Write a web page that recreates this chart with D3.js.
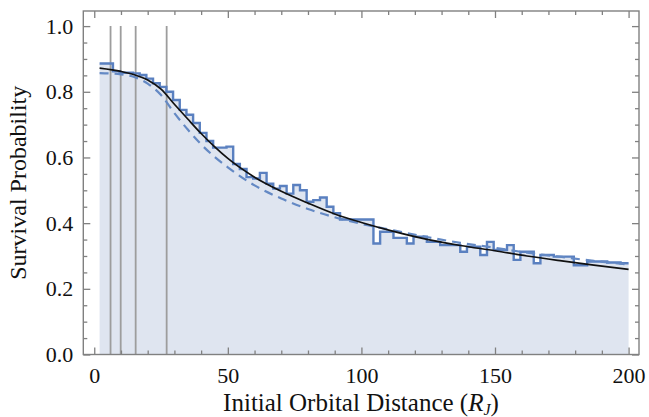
<!DOCTYPE html>
<html>
<head>
<meta charset="utf-8">
<script src="https://cdn.jsdelivr.net/npm/d3@7"></script>
<style>
  body { margin: 0; background: #fff; }
  svg text { font-family: "Liberation Serif", "Times New Roman", serif; fill: #111; }
</style>
</head>
<body>
<div id="chart"></div>
<script>
/* survival probability vs initial orbital distance */

// histogram: bins of width 2.5 starting at 2 (last bin closes at 200)
const binStart = 2, binWidth = 2.5, binEnd = 200;
const survival = [
  0.886, 0.886, 0.862, 0.858, 0.858, 0.856, 0.851, 0.840, 0.826, 0.815,
  0.800, 0.775, 0.745, 0.730, 0.705, 0.675, 0.650, 0.630, 0.630, 0.633,
  0.580, 0.565, 0.540, 0.536, 0.553, 0.520, 0.505, 0.513, 0.490, 0.516,
  0.500, 0.465, 0.470, 0.478, 0.450, 0.430, 0.411, 0.411, 0.411, 0.411,
  0.411, 0.338, 0.374, 0.374, 0.355, 0.355, 0.338, 0.359, 0.359, 0.343,
  0.343, 0.333, 0.333, 0.333, 0.313, 0.328, 0.328, 0.303, 0.343, 0.318,
  0.318, 0.333, 0.288, 0.313, 0.313, 0.278, 0.303, 0.303, 0.298, 0.298,
  0.298, 0.272, 0.272, 0.283, 0.283, 0.283, 0.280, 0.280, 0.278
];

// fitted curves
const fitX = [2, 10, 15, 20, 25, 30, 35, 40, 45, 50, 60, 70, 80, 90, 100, 112, 125, 137, 150, 162, 175, 187, 200];
const fitSolid = [0.872, 0.862, 0.852, 0.836, 0.808, 0.762, 0.717, 0.673, 0.633, 0.597, 0.540, 0.497, 0.461, 0.428, 0.402, 0.375, 0.350, 0.332, 0.316, 0.300, 0.285, 0.272, 0.259];
const fitDashed = [0.857, 0.853, 0.845, 0.825, 0.790, 0.735, 0.685, 0.640, 0.602, 0.570, 0.515, 0.475, 0.443, 0.418, 0.398, 0.378, 0.357, 0.340, 0.325, 0.310, 0.297, 0.285, 0.274];

// vertical marker lines (moon orbits)
const moons = [6.1, 9.9, 15.5, 27.1];

const xTicks = [0, 50, 100, 150, 200];
const yTicks = [0, 0.2, 0.4, 0.6, 0.8, 1.0];

const width = 649, height = 417,
      margin = ({top: 11, right: 10, bottom: 62.5, left: 83.3});

let svg = d3.select("#chart")
    .append("svg")
    .attr("width", width)
    .attr("height", height);

let x = d3.scaleLinear()
    .domain([-4.1, 203.9])
    .range([margin.left, width - margin.right]);

let y = d3.scaleLinear()
    .domain([0, 1.046])
    .range([height - margin.bottom, margin.top]);

// build step points
let steps = survival.map((v, i) => ({
    x0: binStart + i * binWidth,
    x1: Math.min(binStart + (i + 1) * binWidth, binEnd),
    v: v
}));
steps[steps.length - 1].x1 = binEnd;

let stepPts = [];
for (let s of steps) {
    stepPts.push([s.x0, s.v]);
    stepPts.push([s.x1, s.v]);
}

// filled area under histogram
svg.append("path")
    .datum(stepPts)
    .attr("fill", "#dfe5f0")
    .attr("d", d3.area()
        .x(d => x(d[0]))
        .y0(y(0))
        .y1(d => y(d[1])));

// gray vertical lines
svg.selectAll(".moon")
    .data(moons)
    .join("line")
    .attr("class", "moon")
    .attr("x1", d => x(d)).attr("x2", d => x(d))
    .attr("y1", y(0)).attr("y2", y(1.0))
    .attr("stroke", "#9d9d9d")
    .attr("stroke-width", 1.8);

// histogram outline
svg.append("path")
    .datum(stepPts)
    .attr("fill", "none")
    .attr("stroke", "#5a80c0")
    .attr("stroke-width", 2.4)
    .attr("stroke-linejoin", "miter")
    .attr("d", d3.line().x(d => x(d[0])).y(d => y(d[1])));

let fitLine = vals => d3.line()
    .x((d, i) => x(fitX[i]))
    .y(d => y(d))
    .curve(d3.curveMonotoneX)(vals);

svg.append("path")
    .attr("fill", "none")
    .attr("stroke", "#6489c4")
    .attr("stroke-width", 2.2)
    .attr("stroke-dasharray", "9,6")
    .attr("d", fitLine(fitDashed));

svg.append("path")
    .attr("fill", "none")
    .attr("stroke", "#111")
    .attr("stroke-width", 1.7)
    .attr("d", fitLine(fitSolid));

// frame + ticks (inward, all four sides)
const frameColor = "#808080";
const xMinor = d3.range(0, 201, 10).filter(v => v % 50 !== 0);
const yMinor = d3.range(0, 1.001, 0.05).filter(v => Math.abs(v * 5 - Math.round(v * 5)) > 1e-6);

function axisStyle(g) {
    g.select(".domain").remove();
    g.selectAll(".tick line").attr("stroke", frameColor).attr("stroke-width", 1.3);
    g.selectAll(".tick text").attr("font-size", 22).attr("fill", "#111")
        .style("font-family", '"Liberation Serif", serif');
}

svg.append("g")
    .attr("transform", `translate(0,${y(0)})`)
    .call(d3.axisBottom(x).tickValues(xTicks).tickSize(-7).tickPadding(13).tickFormat(d3.format("d")))
    .call(axisStyle);
svg.append("g")
    .attr("transform", `translate(0,${y(0)})`)
    .call(d3.axisBottom(x).tickValues(xMinor).tickSize(-4).tickFormat(""))
    .call(axisStyle);
svg.append("g")
    .attr("transform", `translate(0,${margin.top})`)
    .call(d3.axisTop(x).tickValues(xTicks).tickSize(-7).tickFormat(""))
    .call(axisStyle);
svg.append("g")
    .attr("transform", `translate(0,${margin.top})`)
    .call(d3.axisTop(x).tickValues(xMinor).tickSize(-4).tickFormat(""))
    .call(axisStyle);

svg.append("g")
    .attr("transform", `translate(${margin.left},0)`)
    .call(d3.axisLeft(y).tickValues(yTicks).tickSize(-7).tickPadding(10).tickFormat(d3.format(".1f")))
    .call(axisStyle);
svg.append("g")
    .attr("transform", `translate(${margin.left},0)`)
    .call(d3.axisLeft(y).tickValues(yMinor).tickSize(-4).tickFormat(""))
    .call(axisStyle);
svg.append("g")
    .attr("transform", `translate(${width - margin.right},0)`)
    .call(d3.axisRight(y).tickValues(yTicks).tickSize(-7).tickFormat(""))
    .call(axisStyle);
svg.append("g")
    .attr("transform", `translate(${width - margin.right},0)`)
    .call(d3.axisRight(y).tickValues(yMinor).tickSize(-4).tickFormat(""))
    .call(axisStyle);

svg.append("rect")
    .attr("x", margin.left)
    .attr("y", margin.top)
    .attr("width", width - margin.right - margin.left)
    .attr("height", height - margin.bottom - margin.top)
    .attr("fill", "none")
    .attr("stroke", frameColor)
    .attr("stroke-width", 1.4);

// axis titles
let xt = svg.append("text")
    .attr("x", 361)
    .attr("y", 411)
    .attr("text-anchor", "middle")
    .attr("font-size", 25);
xt.append("tspan").text("Initial Orbital Distance (");
xt.append("tspan").attr("font-style", "italic").text("R");
xt.append("tspan").attr("font-style", "italic").attr("font-size", 16).attr("dy", 4).text("J");
xt.append("tspan").attr("dy", -4).text(")");

svg.append("text")
    .attr("transform", `translate(26,${(margin.top + height - margin.bottom) / 2}) rotate(-90)`)
    .attr("text-anchor", "middle")
    .attr("font-size", 24)
    .text("Survival Probability");
</script>
</body>
</html>
